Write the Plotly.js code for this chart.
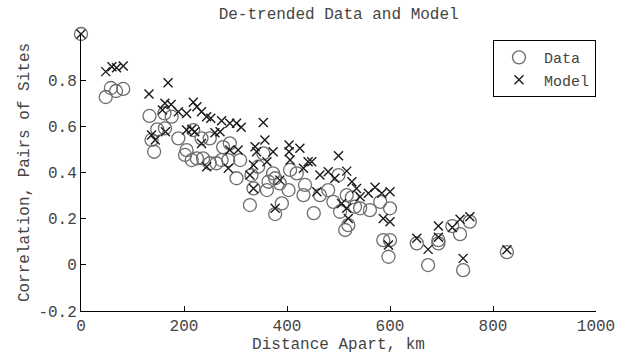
<!DOCTYPE html>
<html>
<head>
<meta charset="utf-8">
<script src="https://cdn.plot.ly/plotly-3.0.1.min.js"></script>
<style>html,body{margin:0;padding:0;background:#fff}#chart{width:633px;height:356px}</style>
</head>
<body>
<div id="chart"></div>
<script>
// Data (circles): distance in km, correlation
const dataKm = [0, 48, 58, 68, 82, 133, 162, 176, 148, 163, 137, 142, 189, 218, 234, 250, 205, 202, 215, 225, 237, 250, 263, 273, 276, 289, 286, 309, 302, 344, 354, 331, 373, 364, 377, 361, 386, 403, 406, 419, 435, 432, 390, 328, 377, 452, 335, 464, 480, 500, 490, 503, 516, 526, 532, 542, 561, 581, 600, 519, 513, 587, 600, 597, 652, 674, 694, 694, 721, 736, 755, 742, 827];
const dataCorr = [1.0, 0.727, 0.766, 0.753, 0.762, 0.645, 0.656, 0.642, 0.587, 0.591, 0.541, 0.490, 0.548, 0.584, 0.548, 0.548, 0.497, 0.476, 0.454, 0.461, 0.461, 0.440, 0.440, 0.454, 0.510, 0.526, 0.454, 0.454, 0.375, 0.425, 0.483, 0.389, 0.396, 0.360, 0.375, 0.324, 0.353, 0.324, 0.411, 0.396, 0.346, 0.302, 0.266, 0.259, 0.220, 0.224, 0.331, 0.302, 0.324, 0.389, 0.273, 0.230, 0.302, 0.292, 0.252, 0.245, 0.237, 0.273, 0.245, 0.172, 0.151, 0.107, 0.107, 0.035, 0.093, -0.001, 0.107, 0.093, 0.168, 0.133, 0.187, -0.023, 0.055];

// Model (crosses)
const modelKm = [0, 48, 60, 69, 82, 132, 169, 163, 175, 158, 189, 205, 218, 225, 234, 244, 252, 273, 205, 215, 221, 234, 260, 270, 137, 144, 164, 244, 289, 302, 311, 354, 357, 338, 341, 373, 404, 425, 404, 406, 441, 448, 432, 289, 305, 286, 361, 335, 328, 386, 335, 377, 500, 464, 480, 493, 516, 526, 535, 542, 558, 571, 584, 600, 458, 506, 516, 519, 587, 600, 597, 652, 674, 694, 694, 721, 736, 755, 742, 827];
const modelCorr = [1.0, 0.837, 0.858, 0.854, 0.861, 0.740, 0.789, 0.700, 0.695, 0.671, 0.663, 0.656, 0.704, 0.685, 0.663, 0.642, 0.635, 0.624, 0.584, 0.587, 0.577, 0.526, 0.572, 0.577, 0.562, 0.541, 0.577, 0.425, 0.613, 0.613, 0.596, 0.617, 0.541, 0.512, 0.490, 0.490, 0.519, 0.505, 0.490, 0.454, 0.447, 0.447, 0.418, 0.497, 0.497, 0.418, 0.447, 0.432, 0.389, 0.367, 0.331, 0.245, 0.473, 0.389, 0.403, 0.375, 0.406, 0.360, 0.331, 0.295, 0.310, 0.336, 0.310, 0.317, 0.317, 0.266, 0.245, 0.201, 0.201, 0.187, 0.086, 0.115, 0.067, 0.168, 0.119, 0.162, 0.197, 0.208, 0.028, 0.065];

const xTickVals = [0, 200, 400, 600, 800, 1000];
const xTickText = ['0', '200', '400', '600', '800', '1000'];
const yTickVals = [-0.2, 0, 0.2, 0.4, 0.6, 0.8];
const yTickText = ['-0.2', '0', '0.2', '0.4', '0.6', '0.8'];

const FONT = 'Liberation Mono, Courier New, monospace';
const TXT = '#444444';
const FS = 16;

const traces = [
  {
    x: dataKm, y: dataCorr, name: 'Data', type: 'scatter', mode: 'markers', cliponaxis: false,
    marker: {symbol: 'circle-open', size: 13, color: '#6e6e6e', line: {width: 1.3, color: '#6e6e6e'}}
  },
  {
    x: modelKm, y: modelCorr, name: 'Model', type: 'scatter', mode: 'markers', cliponaxis: false,
    marker: {symbol: 'x-thin-open', size: 9, color: '#1a1a1a', line: {width: 1.4, color: '#1a1a1a'}}
  }
];

const axisCommon = {
  showline: true, linecolor: '#000', linewidth: 1, mirror: false,
  ticks: 'inside', ticklen: 5, tickwidth: 1, tickcolor: '#000',
  showgrid: false, zeroline: false,
  tickfont: {family: FONT, size: FS, color: TXT}
};

const layout = {
  width: 633, height: 356,
  margin: {l: 81, r: 37, t: 34, b: 45},
  paper_bgcolor: '#fff', plot_bgcolor: '#fff',
  title: {text: 'De-trended Data and Model', font: {family: FONT, size: FS, color: TXT}, x: 0.535, xanchor: 'center', y: 0.963, yanchor: 'middle'},
  xaxis: Object.assign({}, axisCommon, {
    range: [0, 1000], tickvals: xTickVals, ticktext: xTickText, ticklabelstandoff: 0,
    title: {text: 'Distance Apart, km', font: {family: FONT, size: FS, color: TXT}, standoff: 0}
  }),
  yaxis: Object.assign({}, axisCommon, {
    range: [-0.2, 1.0], tickvals: yTickVals, ticktext: yTickText, ticklabelstandoff: 0,
    title: {text: 'Correlation, Pairs of Sites', font: {family: FONT, size: FS, color: TXT}, standoff: 4}
  }),
  showlegend: true,
  legend: {
    x: 1.0, xanchor: 'right', y: 0.978, yanchor: 'top',
    bordercolor: '#000', borderwidth: 1, bgcolor: '#fff',
    font: {family: FONT, size: 15, color: TXT}, itemwidth: 40
  }
};

Plotly.newPlot('chart', traces, layout, {displayModeBar: false, staticPlot: true});
</script>
</body>
</html>
